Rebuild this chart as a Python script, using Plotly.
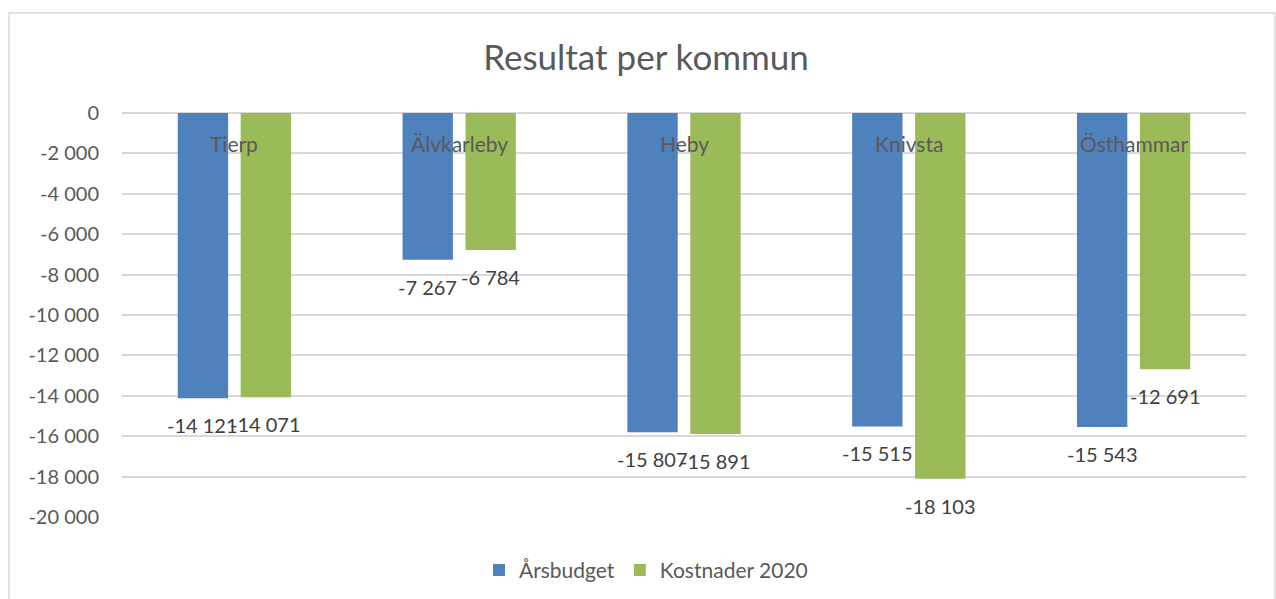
import plotly.graph_objects as go

# Kommuner och resultat (tkr)
kommuner = ["Tierp", "Älvkarleby", "Heby", "Knivsta", "Östhammar"]
arsbudget = [-14121, -7267, -15807, -15515, -15543]
kostnader_2020 = [-14071, -6784, -15891, -18103, -12691]

y_ticks = [0, -2000, -4000, -6000, -8000, -10000, -12000, -14000, -16000, -18000, -20000]
y_ticktext = ["0", "-2 000", "-4 000", "-6 000", "-8 000", "-10 000", "-12 000",
              "-14 000", "-16 000", "-18 000", "-20 000"]

BLUE = "#4f81bd"
GREEN = "#9bbb59"
GRID = "#d9d9d9"
FONT = "Lato, Carlito, Calibri, sans-serif"
BARGAP = 0.44


def fmt(v):
    return f"{v:,}".replace(",", " ")


fig = go.Figure()
fig.add_trace(go.Bar(name="Årsbudget", x=kommuner, y=arsbudget,
                     marker=dict(color=BLUE, line=dict(width=0))))
fig.add_trace(go.Bar(name="Kostnader 2020", x=kommuner, y=kostnader_2020,
                     marker=dict(color=GREEN, line=dict(width=0))))

annotations = []
# Kategorietiketter vid nollinjen
for i, k in enumerate(kommuner):
    annotations.append(dict(x=i, y=0, xref="x", yref="y", text=k, showarrow=False,
                            yanchor="middle", yshift=-30,
                            font=dict(family=FONT, size=21, color="#595959")))

# Dataetiketter under staplarnas ände
slot = (1 - BARGAP) / 2
for series, sign in ((arsbudget, -1), (kostnader_2020, 1)):
    for i, v in enumerate(series):
        annotations.append(dict(x=i + sign * slot / 2, y=v, xref="x", yref="y",
                                text=fmt(v), showarrow=False, yanchor="middle",
                                yshift=-27,
                                font=dict(family=FONT, size=20, color="#404040")))

fig.update_layout(
    width=1276, height=599,
    margin=dict(l=122, r=30, t=113, b=82, autoexpand=False),
    paper_bgcolor="white", plot_bgcolor="white",
    barmode="group", bargap=BARGAP, bargroupgap=0.2,
    font=dict(family=FONT, size=20, color="#595959"),
    title=dict(text="Resultat per kommun", x=646 / 1276, xref="container",
               xanchor="center", y=1 - 58 / 599, yref="container", yanchor="middle",
               font=dict(family=FONT, size=35, color="#595959")),
    xaxis=dict(showticklabels=False, showgrid=False, zeroline=False,
               showline=False, ticks=""),
    yaxis=dict(range=[-20000, 0], tickvals=y_ticks, ticktext=y_ticktext,
               showgrid=True, gridcolor=GRID, gridwidth=2,
               zeroline=True, zerolinecolor=GRID, zerolinewidth=2,
               showline=False, ticks="", ticklabelstandoff=22,
               tickfont=dict(family=FONT, size=20, color="#595959")),
    legend=dict(orientation="h", x=(646 - 122) / 1124, xanchor="center",
                y=-0.132, yanchor="middle",
                font=dict(family=FONT, size=21, color="#595959"),
                itemwidth=30, traceorder="normal"),
    annotations=annotations,
    shapes=[dict(type="rect", xref="paper", yref="paper",
                 x0=-0.1005, x1=1.0258, y0=-0.4, y1=1.2475,
                 line=dict(color=GRID, width=1.5), fillcolor="rgba(0,0,0,0)",
                 layer="below")],
)

fig.write_html("out.html")
